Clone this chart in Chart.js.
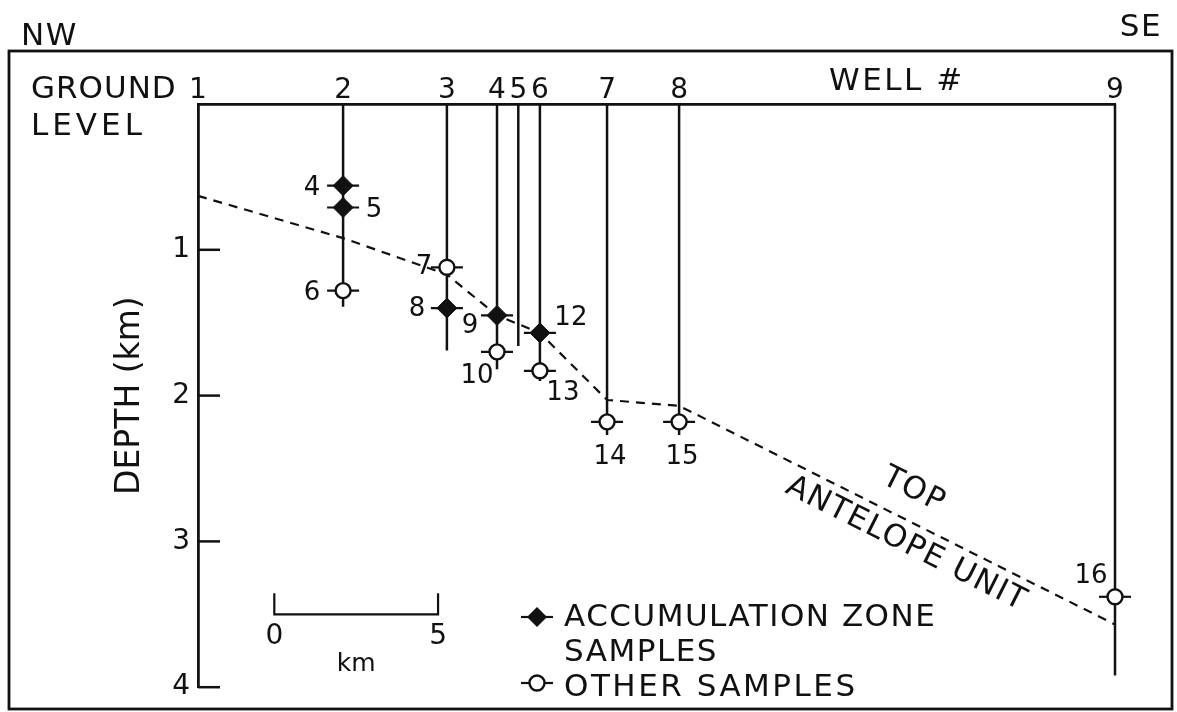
<!DOCTYPE html>
<html><head><meta charset="utf-8">
<script src="https://cdn.jsdelivr.net/npm/chart.js@4/dist/chart.umd.min.js"></script>
<style>html,body{margin:0;padding:0;background:#fff;overflow:hidden}#wrap{width:1177px;height:712px;position:relative}</style>
</head><body><div id="wrap"><canvas id="c" width="1177" height="712"></canvas></div>
<script>
// ---------- DATA ----------
const wellNames    = ['1', '2', '3', '4', '5', '6', '7', '8', '9'];
const wellKm       = [0, 4.43, 7.60, 9.13, 9.78, 10.44, 12.49, 14.69, 28];
const wellBottomKm = [4.0, 1.39, 1.69, 1.82, 1.66, 1.90, 2.27, 2.27, 3.92];

const accumIds   = ['4', '5', '8', '9', '12'];
const accumWell  = ['2', '2', '3', '4', '6'];
const accumDepth = [0.56, 0.71, 1.40, 1.45, 1.57];

const otherIds   = ['6', '7', '10', '13', '14', '15', '16'];
const otherWell  = ['2', '3', '4', '6', '7', '8', '9'];
const otherDepth = [1.28, 1.12, 1.70, 1.83, 2.18, 2.18, 3.38];

const antelopeKm    = [0, 4.43, 7.60, 9.13, 10.44, 12.49, 14.69, 28];
const antelopeDepth = [0.63, 0.92, 1.17, 1.45, 1.57, 2.03, 2.07, 3.57];

const depthTicks = [1, 2, 3, 4];
const scaleBarKm = 5;

// ---------- STYLE / LAYOUT ----------
const FONT = '"DejaVu Sans", "Noto Sans", sans-serif';
const INK = '#111';
const labelOffset = {'4':[-31,3],'5':[31,3],'6':[-31,3],'7':[-23,0],'8':[-30,1],'9':[-27,11],
  '10':[-20,24],'12':[31,-15],'13':[23,22],'14':[3,35],'15':[3,35],'16':[-24,-21]};
const scaleBarPos = {x: 2.33, y: 3.50, tick: 0.145};
const antelopeText = [{text:'TOP', x:21.86, y:2.65}, {text:'ANTELOPE UNIT', x:21.62, y:3.02}];

const kmOf = w => wellKm[wellNames.indexOf(w)];

const datasets = [];
datasets.push({type:'scatter', label:'ACCUMULATION ZONE SAMPLES', order:0, clip:false,
  data: accumIds.map((id,i)=>({x:kmOf(accumWell[i]), y:accumDepth[i]})),
  pointStyle:'rectRot', pointRadius:10, backgroundColor:INK, borderColor:INK, borderWidth:1});
datasets.push({type:'scatter', label:'OTHER SAMPLES', order:0, clip:false,
  data: otherIds.map((id,i)=>({x:kmOf(otherWell[i]), y:otherDepth[i]})),
  pointStyle:'circle', pointRadius:7.5, backgroundColor:'#fff', borderColor:INK, borderWidth:2.4});
datasets.push({type:'scatter', label:'arms', order:1, clip:false,
  data: accumIds.map((id,i)=>({x:kmOf(accumWell[i]), y:accumDepth[i]}))
        .concat(otherIds.map((id,i)=>({x:kmOf(otherWell[i]), y:otherDepth[i]}))),
  pointStyle:'line', pointRadius:16, borderColor:INK, borderWidth:2.2});
wellNames.forEach((w,i)=>{
  if (i===0) return; // well 1 is the depth axis itself
  datasets.push({type:'line', label:'well '+w, order:2, clip:false,
    data:[{x:wellKm[i], y:0},{x:wellKm[i], y:wellBottomKm[i]}],
    borderColor:INK, borderWidth:2.5, pointRadius:0, tension:0, fill:false});
});
datasets.push({type:'line', label:'TOP ANTELOPE UNIT', order:3, clip:false,
  data: antelopeKm.map((x,i)=>({x, y:antelopeDepth[i]})),
  borderColor:INK, borderWidth:2.2, borderDash:[9,7], pointRadius:0, tension:0, fill:false});
datasets.push({type:'line', label:'scale bar', order:2, clip:false,
  data:[{x:scaleBarPos.x, y:scaleBarPos.y-scaleBarPos.tick},{x:scaleBarPos.x, y:scaleBarPos.y},
        {x:scaleBarPos.x+scaleBarKm, y:scaleBarPos.y},{x:scaleBarPos.x+scaleBarKm, y:scaleBarPos.y-scaleBarPos.tick}],
  borderColor:INK, borderWidth:2.2, pointRadius:0, tension:0, fill:false});

function txt(ctx, s, x, y, size, align, baseline, spacing, rot) {
  ctx.save();
  ctx.font = size + 'px ' + FONT;
  ctx.fillStyle = INK;
  ctx.textAlign = align || 'left';
  ctx.textBaseline = baseline || 'alphabetic';
  if ('letterSpacing' in ctx) ctx.letterSpacing = (spacing === undefined ? 1.5 : spacing) + 'px';
  ctx.translate(x, y);
  if (rot) ctx.rotate(rot);
  ctx.fillText(s, 0, 0);
  ctx.restore();
}
function legendMarker(ctx, x, y, filled) {
  ctx.save();
  ctx.strokeStyle = INK; ctx.lineWidth = 2.2;
  ctx.beginPath(); ctx.moveTo(x-16, y); ctx.lineTo(x+16, y); ctx.stroke();
  ctx.beginPath();
  if (filled) {
    ctx.moveTo(x, y-10); ctx.lineTo(x+10, y); ctx.lineTo(x, y+10); ctx.lineTo(x-10, y); ctx.closePath();
    ctx.fillStyle = INK; ctx.fill();
  } else {
    ctx.arc(x, y, 7.5, 0, Math.PI*2);
    ctx.fillStyle = '#fff'; ctx.fill(); ctx.lineWidth = 2.4; ctx.stroke();
  }
  ctx.restore();
}

const decor = {
  id:'decor',
  beforeDraw(chart) {
    const ctx = chart.ctx;
    ctx.save(); ctx.fillStyle = '#fff'; ctx.fillRect(0,0,chart.width,chart.height); ctx.restore();
  },
  afterDraw(chart) {
    const ctx = chart.ctx, sx = chart.scales.x, sy = chart.scales.y;
    // outer frame
    ctx.save(); ctx.strokeStyle = INK; ctx.lineWidth = 2.8;
    ctx.strokeRect(9, 51, 1163, 658); ctx.restore();
    // inward depth ticks
    ctx.save(); ctx.strokeStyle = INK; ctx.lineWidth = 2.5;
    depthTicks.forEach(v => { const y = sy.getPixelForValue(v);
      ctx.beginPath(); ctx.moveTo(sx.left, y); ctx.lineTo(sx.left + 22, y); ctx.stroke(); });
    ctx.restore();
    // headers
    txt(ctx, 'NW', 21, 45, 31);
    txt(ctx, 'SE', 1162, 36, 31, 'right');
    txt(ctx, 'GROUND', 31, 98, 31, 'left', 'alphabetic', 1);
    txt(ctx, 'LEVEL', 31, 135, 31, 'left', 'alphabetic', 4);
    txt(ctx, 'WELL #', 829, 90, 31, 'left', 'alphabetic', 2.5);
    // sample numbers
    const metaA = chart.getDatasetMeta(0), metaO = chart.getDatasetMeta(1);
    accumIds.forEach((id,i)=>{ const p = metaA.data[i], o = labelOffset[id];
      txt(ctx, id, p.x+o[0], p.y+o[1], 26, 'center', 'middle', 0); });
    otherIds.forEach((id,i)=>{ const p = metaO.data[i], o = labelOffset[id];
      txt(ctx, id, p.x+o[0], p.y+o[1], 26, 'center', 'middle', 0); });
    // scale bar labels
    const sbY = sy.getPixelForValue(scaleBarPos.y);
    txt(ctx, '0', sx.getPixelForValue(scaleBarPos.x), sbY+22, 28, 'center', 'middle', 0);
    txt(ctx, String(scaleBarKm), sx.getPixelForValue(scaleBarPos.x+scaleBarKm), sbY+22, 28, 'center', 'middle', 0);
    txt(ctx, 'km', sx.getPixelForValue(scaleBarPos.x+scaleBarKm/2), sbY+57, 25, 'center', 'alphabetic', 0);
    // rotated unit label
    const n = antelopeKm.length;
    const ang = Math.atan2(sy.getPixelForValue(antelopeDepth[n-1]) - sy.getPixelForValue(antelopeDepth[n-2]),
                           sx.getPixelForValue(antelopeKm[n-1]) - sx.getPixelForValue(antelopeKm[n-2]));
    antelopeText.forEach(t => txt(ctx, t.text, sx.getPixelForValue(t.x), sy.getPixelForValue(t.y), 31, 'center', 'middle', 1.5, ang));
    // legend
    legendMarker(ctx, 537, 617, true);
    txt(ctx, 'ACCUMULATION ZONE', 564, 626, 31);
    txt(ctx, 'SAMPLES', 564, 661, 31);
    legendMarker(ctx, 537, 683, false);
    txt(ctx, 'OTHER SAMPLES', 564, 696, 31, 'left', 'alphabetic', 2.5);
  }
};

new Chart(document.getElementById('c'), {
  data: {datasets},
  options: {
    responsive:false, animation:false, events:[], devicePixelRatio:1,
    layout:{padding:{left:0, top:0, right:62, bottom:21}},
    plugins:{legend:{display:false}, tooltip:{enabled:false}},
    scales:{
      x:{type:'linear', position:'top', min:0, max:28,
        afterBuildTicks: s => { s.ticks = wellKm.map(v=>({value:v})); },
        afterFit: s => { s.height = 104; },
        ticks:{autoSkip:false, maxRotation:0, minRotation:0, padding:-4, color:INK,
          font:{family:FONT, size:28}, callback:(v,i)=>wellNames[i]},
        grid:{display:false, drawTicks:false},
        border:{display:true, color:INK, width:2.8}},
      y:{type:'linear', reverse:true, min:0, max:4,
        afterBuildTicks: s => { s.ticks = [0].concat(depthTicks).map(v=>({value:v})); },
        afterFit: s => { s.width = 198; },
        ticks:{padding:8, color:INK, font:{family:FONT, size:28}, callback:v => v===0 ? '' : String(v)},
        grid:{display:false, drawTicks:false},
        border:{display:true, color:INK, width:2.8},
        title:{display:true, text:'DEPTH (km)', color:INK, font:{family:FONT, size:33}, padding:{top:111, bottom:0}}}
    }
  },
  plugins:[decor]
});
</script></body></html>
